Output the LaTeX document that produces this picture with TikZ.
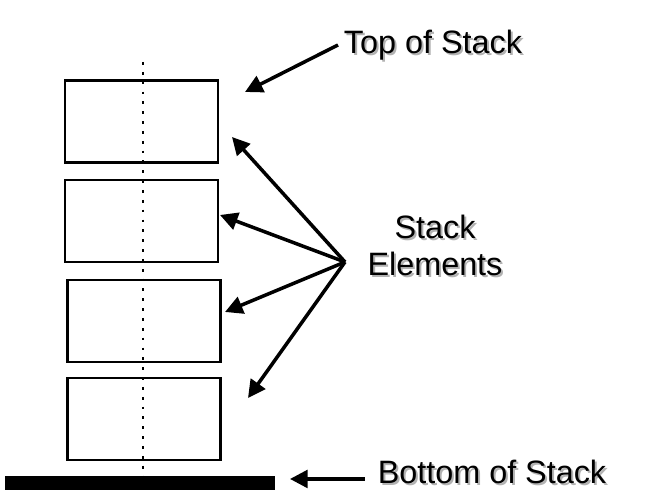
\documentclass[tikz,border=0pt]{standalone}
\usepackage{fontspec}
\setmainfont{Liberation Sans}
\usetikzlibrary{arrows.meta}
\begin{document}
\begin{tikzpicture}[x=0.01cm,y=-0.01cm,
  elem/.style={draw,line width=0.7pt,minimum width=1.53cm,minimum height=0.82cm,inner sep=0pt},
  arr/.style={line width=1pt,-{Triangle[length=5pt,width=5pt]}},
  lbl/.style={font=\fontsize{9.2}{10.5}\selectfont,align=center,inner sep=1pt}]
\useasboundingbox (0,0) rectangle (650,495);
\node[elem] (b1) at (141.5,121.5) {};
\node[elem] (b2) at (141.5,221) {};
\node[elem] (b3) at (144,321) {};
\node[elem] (b4) at (144,419) {};
\draw[dotted,line width=0.8pt] (143,62) -- (143,478);
\fill (5,476) rectangle (275,490);
\node[lbl,text=gray!60] at (435,47) {Top of Stack};
\node[lbl] (top) at (433,45) {Top of Stack};
\node[lbl,text=gray!60] at (437,247) {Stack\\Elements};
\node[lbl] (se) at (435,245) {Stack\\Elements};
\node[lbl,text=gray!60] at (494,474) {Bottom of Stack};
\node[lbl] (bot) at (492,472) {Bottom of Stack};
\coordinate (t0) at (338,45);
\coordinate (s0) at (345,262);
\coordinate (bo) at (365,479);
\draw[arr] (t0) -- (245,92);
\draw[arr] (s0) -- (232,137);
\draw[arr] (s0) -- (220,215);
\draw[arr] (s0) -- (225,312);
\draw[arr] (s0) -- (248,398);
\draw[arr] (bo) -- (290,479);
\end{tikzpicture}
\end{document}
